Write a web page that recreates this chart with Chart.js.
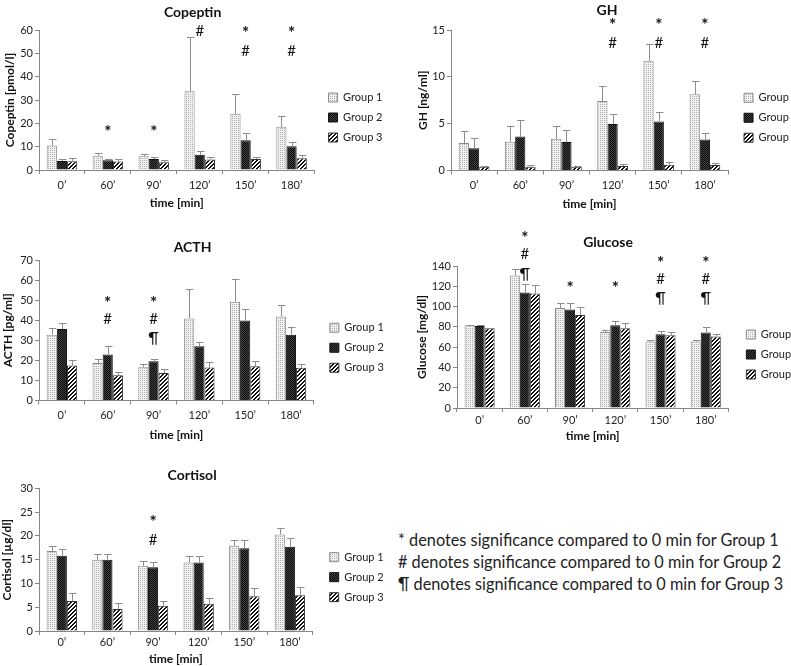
<!DOCTYPE html>
<html><head><meta charset="utf-8">
<script src="https://cdn.jsdelivr.net/npm/chart.js@4/dist/chart.umd.min.js"></script>
<style>
html,body{margin:0;padding:0;background:#fff;overflow:hidden;width:791px;height:666px;position:relative;}
.p{position:absolute;}
#note{position:absolute;left:398px;top:529px;font-family:Lato,sans-serif;font-size:16.3px;line-height:22px;color:#222;white-space:nowrap;}
</style></head><body>
<div class="p" id="w1"><canvas id="c1"></canvas></div>
<div class="p" id="w2"><canvas id="c2"></canvas></div>
<div class="p" id="w3"><canvas id="c3"></canvas></div>
<div class="p" id="w4"><canvas id="c4"></canvas></div>
<div class="p" id="w5"><canvas id="c5"></canvas></div>
<div id="note">* denotes significance compared to 0 min for Group 1<br># denotes significance compared to 0 min for Group 2<br>¶ denotes significance compared to 0 min for Group 3</div>
<script>
const timeLabels = ['0’', '60’', '90’', '120’', '150’', '180’'];
const groupNames = ['Group 1', 'Group 2', 'Group 3'];

const copeptinG1 = [10.5, 6.1, 5.9, 33.8, 24.1, 18.5];
const copeptinG1Err = [2.6, 1.0, 1.0, 23.2, 8.3, 4.7];
const copeptinG2 = [3.9, 4.2, 4.7, 6.5, 12.7, 10.2];
const copeptinG2Err = [0.8, 0.5, 0.7, 1.5, 3.2, 1.9];
const copeptinG3 = [3.7, 3.6, 3.3, 4.5, 4.7, 5.0];
const copeptinG3Err = [1.5, 1.2, 1.2, 1.2, 0.9, 1.4];
const copeptinMarks = ['', '*', '*', '#', '*#', '*#'];

const ghG1 = [2.93, 3.07, 3.38, 7.41, 11.72, 8.14];
const ghG1Err = [1.27, 1.65, 1.34, 1.56, 1.76, 1.38];
const ghG2 = [2.38, 3.62, 3.03, 4.97, 5.24, 3.31];
const ghG2Err = [1.10, 1.72, 1.28, 1.06, 1.04, 0.66];
const ghG3 = [0.41, 0.41, 0.41, 0.48, 0.62, 0.59];
const ghG3Err = [0.09, 0.19, 0.09, 0.17, 0.24, 0.20];
const ghMarks = ['', '', '', '*#', '*#', '*#'];

const acthG1 = [32.8, 18.7, 16.6, 40.9, 49.2, 41.8];
const acthG1Err = [3.4, 1.9, 1.6, 14.6, 11.5, 5.7];
const acthG2 = [35.6, 22.9, 19.5, 27.0, 39.9, 32.7];
const acthG2Err = [3.2, 4.5, 1.3, 2.3, 5.8, 3.8];
const acthG3 = [17.4, 12.6, 13.7, 16.4, 17.1, 16.3];
const acthG3Err = [2.7, 1.7, 2.1, 2.8, 2.7, 1.9];
const acthMarks = ['', '*#', '*#¶', '', '', ''];

const glucoseG1 = [81.5, 130.6, 98.6, 75.0, 65.6, 65.6];
const glucoseG1Err = [0.6, 6.8, 4.9, 1.9, 1.6, 1.6];
const glucoseG2 = [80.8, 113.8, 97.0, 81.5, 72.7, 74.4];
const glucoseG2Err = [1.0, 8.1, 6.5, 4.5, 3.6, 5.1];
const glucoseG3 = [78.6, 112.8, 91.8, 78.6, 71.8, 70.5];
const glucoseG3Err = [0.6, 8.1, 7.5, 5.5, 3.5, 2.2];
const glucoseMarks = ['', '*#¶', '*', '*', '*#¶', '*#¶'];

const cortisolG1 = [16.8, 15.0, 13.7, 14.4, 17.9, 20.3];
const cortisolG1Err = [1.1, 1.1, 1.0, 1.3, 1.2, 1.4];
const cortisolG2 = [15.8, 15.0, 13.4, 14.4, 17.4, 17.7];
const cortisolG2Err = [1.4, 1.1, 1.1, 1.4, 1.7, 1.8];
const cortisolG3 = [6.3, 4.6, 5.3, 5.75, 7.3, 7.5];
const cortisolG3Err = [1.7, 1.3, 1.0, 1.15, 1.7, 1.7];
const cortisolMarks = ['', '', '*#', '', '', ''];

const FONT = 'Lato, "DejaVu Sans", sans-serif';
const AXIS = '#868686';

function makePattern(kind) {
  const c = document.createElement('canvas');
  const g = c.getContext('2d');
  if (kind === 0) {
    c.width = 2; c.height = 2;
    g.fillStyle = '#f1f1f1'; g.fillRect(0, 0, 2, 2);
    g.fillStyle = '#aeaeae'; g.fillRect(0, 0, 1, 1);
  } else if (kind === 1) {
    c.width = 2; c.height = 2;
    g.fillStyle = '#0c0c0c'; g.fillRect(0, 0, 2, 2);
    g.fillStyle = '#404040'; g.fillRect(1, 0, 1, 1); g.fillRect(0, 1, 1, 1);
  } else {
    c.width = 4; c.height = 4;
    g.fillStyle = '#ffffff'; g.fillRect(0, 0, 4, 4);
    g.fillStyle = '#111111';
    for (let yy = 0; yy < 4; yy++) for (let xx = 0; xx < 4; xx++) if ((xx + yy) % 4 < 2) g.fillRect(xx, yy, 1, 1);
  }
  return g.createPattern(c, 'repeat');
}
const fills = [makePattern(0), makePattern(1), makePattern(2)];
const borders = ['#8a8a8a', '#111111', '#333333'];

const extras = {
  id: 'extras',
  afterDatasetsDraw(chart, args, opts) {
    const {ctx} = chart;
    const x = chart.scales.x, y = chart.scales.y;
    ctx.save();
    ctx.strokeStyle = '#8c8c8c';
    ctx.lineWidth = 1;
    chart.data.datasets.forEach((ds, di) => {
      const meta = chart.getDatasetMeta(di);
      meta.data.forEach((bar, i) => {
        const top = Math.round(y.getPixelForValue(ds.data[i] + ds.errors[i])) + 0.5;
        const bx = Math.round(bar.x) + 0.5;
        ctx.beginPath();
        ctx.moveTo(bx, bar.y); ctx.lineTo(bx, top);
        ctx.moveTo(bx - 3.5, top); ctx.lineTo(bx + 4, top);
        ctx.stroke();
      });
    });
    ctx.fillStyle = '#111';
    ctx.textAlign = 'center';
    ctx.textBaseline = 'middle';
    opts.marks.forEach((m, i) => {
      if (!m) return;
      const cx = x.getPixelForValue(i);
      let cy = y.getPixelForValue(opts.levels[i]);
      for (const ch of m) {
        if (ch === '*') { ctx.font = 'bold 17px ' + FONT; ctx.fillText(ch, cx, cy + 4); }
        else { ctx.font = '15px ' + FONT; ctx.fillText(ch, cx, cy); }
        cy += opts.gap;
      }
    });
    ctx.restore();
  }
};

function legendWidth() {
  const c = document.createElement('canvas').getContext('2d');
  c.font = '11px ' + FONT;
  const tw = Math.max(...groupNames.map(n => c.measureText(n).width));
  return 9 + (9 + 5.5 + tw);
}

function panel(p) {
  const wrap = document.getElementById(p.wrap);
  const canvas = document.getElementById(p.id);
  const lw = legendWidth();
  const width = Math.round(p.chartRight - p.left + p.gap + lw);
  const xAxisH = 4 + p.tickPad + 12 + p.xTitlePad + 13;
  const height = Math.round(p.chartBottom - p.top + xAxisH + 2);
  const titleTop = p.titleY - p.top - 9;
  const titleBottom = p.chartTop - p.top - titleTop - 18;
  const padLeft = p.yTitleX - p.left - 7.8;
  wrap.style.left = p.left + 'px';
  wrap.style.top = p.top + 'px';
  canvas.width = width; canvas.height = height;
  canvas.style.width = width + 'px'; canvas.style.height = height + 'px';
  const series = p.series;
  new Chart(canvas, {
    type: 'bar',
    data: {
      labels: timeLabels,
      datasets: groupNames.map((name, k) => ({
        label: name,
        data: series[k][0],
        errors: series[k][1],
        backgroundColor: fills[k],
        borderColor: borders[k],
        borderWidth: 1,
        categoryPercentage: 0.665,
        barPercentage: 1.0
      }))
    },
    options: {
      responsive: false,
      animation: false,
      devicePixelRatio: 1,
      layout: {padding: {left: padLeft, right: 0, top: 0, bottom: 2}},
      plugins: {
        title: {
          display: true, text: p.title, color: '#111',
          font: {family: FONT, size: 14, weight: 'bold', lineHeight: 18 / 14},
          padding: {top: titleTop, bottom: titleBottom}
        },
        legend: {
          display: true, position: 'right', align: 'center', fullSize: false,
          title: {display: true, text: ' ', font: {size: 1, lineHeight: 1}, padding: {top: 0, bottom: 34}},
          labels: {boxWidth: 9, boxHeight: 9, padding: 9, color: '#222',
            font: {family: FONT, size: 11}}
        },
        tooltip: {enabled: false},
        extras: {marks: p.marks, levels: p.levels, gap: p.markGap}
      },
      scales: {
        x: {
          grid: {display: true, drawOnChartArea: false, drawTicks: true, tickLength: 4, color: AXIS, offset: true},
          border: {display: true, color: AXIS},
          ticks: {color: '#222', padding: p.tickPad, font: {family: FONT, size: 11, lineHeight: 12 / 11}, maxRotation: 0},
          title: {display: true, text: 'time [min]', color: '#111',
            font: {family: FONT, size: 12, weight: 'bold', lineHeight: 13 / 12}, padding: {top: p.xTitlePad, bottom: 0}}
        },
        y: {
          min: 0, max: p.yMax,
          afterFit: (s) => { s.width = p.chartLeft - p.left - padLeft; },
          grid: {display: true, drawOnChartArea: false, drawTicks: true, tickLength: 4, color: AXIS},
          border: {display: true, color: AXIS},
          ticks: {stepSize: p.yStep, color: '#222', padding: 2, font: {family: FONT, size: 11}},
          title: {display: true, text: p.yTitle, color: '#111',
            font: {family: FONT, size: 12, weight: 'bold', lineHeight: 15.6 / 12}, padding: 0}
        },
        gap: {
          type: 'linear', position: 'right', display: true,
          grid: {display: false}, border: {display: false}, ticks: {display: false},
          afterFit: (s) => { s.width = p.gap; }
        }
      }
    },
    plugins: [extras]
  });
}

panel({wrap: 'w1', id: 'c1', left: 0, top: 0, chartLeft: 39, chartTop: 30, chartBottom: 175, chartRight: 315,
  titleY: 12, gap: 5, yTitleX: 10, tickPad: 5, xTitlePad: 1, yMax: 60, yStep: 10,
  title: 'Copeptin', yTitle: 'Copeptin [pmol/l]',
  series: [[copeptinG1, copeptinG1Err], [copeptinG2, copeptinG2Err], [copeptinG3, copeptinG3Err]],
  marks: copeptinMarks, levels: [null, 17.9, 17.9, 59.3, 60, 60], markGap: 21.5});

panel({wrap: 'w2', id: 'c2', left: 390, top: 0, chartLeft: 451, chartTop: 30, chartBottom: 175, chartRight: 729,
  titleY: 10, gap: 7, yTitleX: 423, tickPad: 5, xTitlePad: 1.5, yMax: 15, yStep: 5,
  title: 'GH', yTitle: 'GH [ng/ml]',
  series: [[ghG1, ghG1Err], [ghG2, ghG2Err], [ghG3, ghG3Err]],
  marks: ghMarks, levels: [null, null, null, 15.9, 15.9, 15.9], markGap: 21.5});

panel({wrap: 'w3', id: 'c3', left: 0, top: 228, chartLeft: 39, chartTop: 260, chartBottom: 405, chartRight: 315,
  titleY: 247, gap: 7, yTitleX: 8, tickPad: 5, xTitlePad: 2.5, yMax: 70, yStep: 10,
  title: 'ACTH', yTitle: 'ACTH [pg/ml]',
  series: [[acthG1, acthG1Err], [acthG2, acthG2Err], [acthG3, acthG3Err]],
  marks: acthMarks, levels: [null, 50.4, 50.4, null, null, null], markGap: 19.5});

panel({wrap: 'w4', id: 'c4', left: 390, top: 222, chartLeft: 457, chartTop: 266, chartBottom: 410.5, chartRight: 730,
  titleY: 242, gap: 9, yTitleX: 422, tickPad: 2.5, xTitlePad: 1, yMax: 140, yStep: 20,
  title: 'Glucose', yTitle: 'Glucose [mg/dl]',
  series: [[glucoseG1, glucoseG1Err], [glucoseG2, glucoseG2Err], [glucoseG3, glucoseG3Err]],
  marks: glucoseMarks, levels: [null, 170.6, 121.6, 121.6, 146.4, 146.4], markGap: 19.5});

panel({wrap: 'w5', id: 'c5', left: 0, top: 456, chartLeft: 39, chartTop: 488.3, chartBottom: 632.7, chartRight: 314,
  titleY: 475, gap: 8, yTitleX: 7, tickPad: 1.5, xTitlePad: 3, yMax: 30, yStep: 5,
  title: 'Cortisol', yTitle: 'Cortisol [µg/dl]',
  series: [[cortisolG1, cortisolG1Err], [cortisolG2, cortisolG2Err], [cortisolG3, cortisolG3Err]],
  marks: cortisolMarks, levels: [null, null, 23.6, null, null, null], markGap: 21.5});
</script>
</body></html>
